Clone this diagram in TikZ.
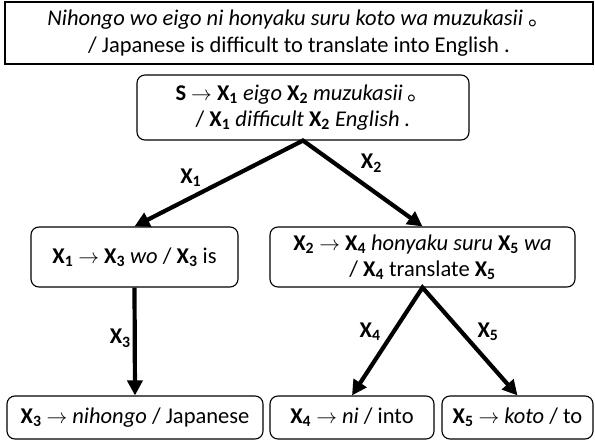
\documentclass[tikz,border=0pt]{standalone}
\usepackage{fontspec}
\setmainfont{Carlito}
\newfontfamily\cjk{Noto Sans CJK JP}
\usetikzlibrary{
  arrows.meta
}
\def\X#1{\textbf{X\textsubscript{#1}}}
\def\Maru{\smash{\cjk 。}}

\tikzset{
  RuleBox/.style={draw, rounded corners=8pt, line width=1.1pt,
    align=center, inner sep=0pt, font=\fontsize{22.5}{26}\selectfont},
  DrvEdge/.style={{Triangle[length=15pt,width=15pt]}-{Triangle[length=15pt,width=15pt]},
    line width=4.2pt, line join=miter},
  DrvLbl/.style={inner sep=2pt, font=\fontsize{22.5}{26}\selectfont}
}

\begin{document}
\begin{tikzpicture}[x=1pt,y=-1pt]
      \useasboundingbox (0,0) rectangle (595,444);

      % sentence pair
      \node [draw,
        line width=1.1pt,
        minimum width=588pt,
        minimum height=62pt,
        align=center,
        font=\fontsize{22.5}{27}\selectfont,
      ] (Sntnc) at (299, 33){\textit{Nihongo wo eigo ni honyaku suru koto wa muzukasii} \Maru\\
        / Japanese is difficult to translate into English .};

      % rules
      \node [RuleBox, minimum width=332pt, minimum height=65pt] (RuleS) at (303, 107.5)
        {\textbf{S} $\rightarrow$ \X{1} \textit{eigo} \X{2} \textit{muzukasii} \Maru\\
         / \X{1} \textit{difficult} \X{2} \textit{English .}};
      \node [RuleBox, minimum width=207pt, minimum height=60pt] (RuleXa) at (134.5, 257)
        {\X{1} $\rightarrow$ \X{3} \textit{wo} / \X{3} is};
      \node [RuleBox, minimum width=305pt, minimum height=60pt] (RuleXb) at (422.5, 257)
        {\X{2} $\rightarrow$ \X{4} \textit{honyaku suru} \X{5} \textit{wa}\\
         / \X{4} translate \X{5}};
      \node [RuleBox, minimum width=256pt, minimum height=43pt] (RuleXc) at (135, 417.5)
        {\X{3} $\rightarrow$ \textit{nihongo} / Japanese};
      \node [RuleBox, minimum width=164pt, minimum height=43pt] (RuleXd) at (352, 417.5)
        {\X{4} $\rightarrow$ \textit{ni} / into};
      \node [RuleBox, minimum width=151pt, minimum height=43pt] (RuleXe) at (517.5, 417.5)
        {\X{5} $\rightarrow$ \textit{koto} / to};

      % derivation
      \draw[DrvEdge]
      (RuleXa.north) -- node[DrvLbl, pos=0.42, above left] (LblXa) {\X{1}}
      (RuleS.south) -- node[DrvLbl, pos=0.45, above right, yshift=3pt] (LblXb) {\X{2}}
      (RuleXb.north);

      \draw[DrvEdge, -{Triangle[length=15pt,width=15pt]}]
      (RuleXa.south) -- node[DrvLbl, pos=0.47, left] (LblXc) {\X{3}} (RuleXc.north);

      \draw[DrvEdge]
      (RuleXd.north) -- node[DrvLbl, pos=0.59, left=9pt] (LblXd) {\X{4}}
      (RuleXb.south) -- node[DrvLbl, pos=0.41, right=12pt] (LblXe) {\X{5}}
      (RuleXe.north);

    \end{tikzpicture}
\end{document}
